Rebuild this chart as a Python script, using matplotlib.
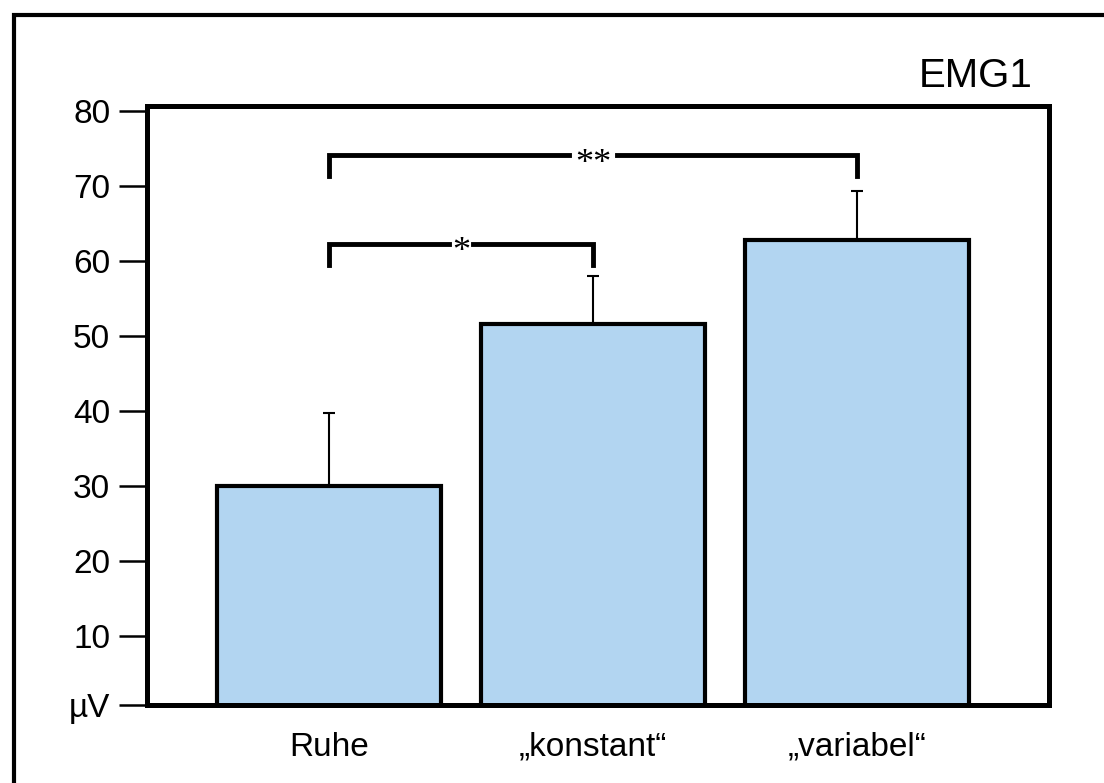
import matplotlib
matplotlib.use("Agg")
import matplotlib.pyplot as plt
from matplotlib.patches import Rectangle

# EMG1 amplitude per condition, mean and upper SD
conditions = ["Ruhe", "\u201ekonstant\u201c", "\u201evariabel\u201c"]
means = [30.0, 51.6, 62.8]
sd_upper = [9.7, 6.4, 6.5]

# significance brackets: (left bar, right bar, bracket height, leg bottom, label)
brackets = [(0, 1, 62.3, 59.5, "*"),
            (0, 2, 74.1, 71.3, "**")]

y_ticks = [0.8, 10, 20, 30, 40, 50, 60, 70, 80]
y_tick_labels = ["\u00b5V", "10", "20", "30", "40", "50", "60", "70", "80"]

plt.rcParams['font.family'] = ['Liberation Sans', 'DejaVu Sans']

fig = plt.figure(figsize=(11.04, 7.83), dpi=100)
ax = fig.add_axes([0.1332, 0.0990, 0.8170, 0.7650])

x = list(range(len(conditions)))
ax.bar(x, means, width=0.85, color="#b2d5f1", edgecolor="black",
       linewidth=3, zorder=2)
ax.errorbar(x, means, yerr=[[0] * len(x), sd_upper], fmt="none",
            ecolor="black", elinewidth=1.5, capsize=4.5, capthick=1.5,
            zorder=1)

# brackets with a gap for the stars
for left, right, top, leg, label in brackets:
    mid = (left + right) / 2
    gap = 0.045 * len(label)
    ax.plot([left, left, mid - gap], [leg, top, top], color="black",
            linewidth=3.5, solid_joinstyle="miter", zorder=3)
    ax.plot([mid + gap, right, right], [top, top, leg], color="black",
            linewidth=3.5, solid_joinstyle="miter", zorder=3)
    ax.annotate(label, (mid, top), xytext=(0, -12.5), textcoords="offset points",
                ha="center", va="baseline", fontsize=26,
                family=["Liberation Serif", "DejaVu Serif"])

ax.set_xlim(-0.688, 2.727)
ax.set_ylim(0.8, 80.6)
ax.set_yticks(y_ticks)
ax.set_yticklabels(y_tick_labels)
ax.set_xticks(x)
ax.set_xticklabels(conditions)

ax.tick_params(axis="y", direction="out", length=20, width=1.8, pad=6.5,
               labelsize=24)
ax.tick_params(axis="x", length=0, pad=19, labelsize=24)
for spine in ax.spines.values():
    spine.set_linewidth(3.6)

fig.text(0.9357, 0.889, "EMG1", ha="right", va="baseline", fontsize=29)

# outer frame running off the right and bottom edges
frame = Rectangle((0.0131, -0.2), 1.2, 1.181, transform=fig.transFigure,
                  fill=False, edgecolor="black", linewidth=3, clip_on=False)
fig.patches.append(frame)

fig.savefig("out.png", dpi=100)
